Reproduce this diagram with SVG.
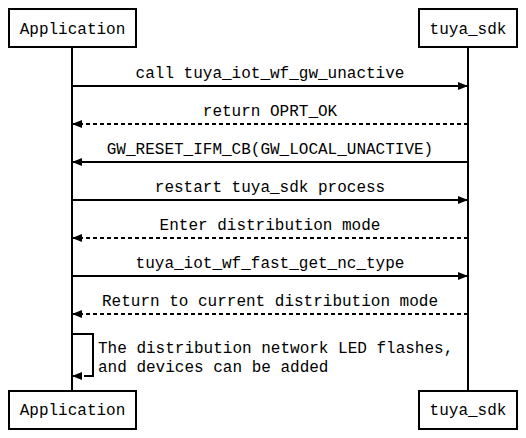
<svg xmlns="http://www.w3.org/2000/svg" width="526" height="438" viewBox="0 0 526 438">
<defs>
<style>
.box{fill:#fff;stroke:#000;stroke-width:2}
.t{font-family:"Liberation Mono","DejaVu Sans Mono",monospace;font-size:16px;fill:#000}
.m{text-anchor:middle}
.ln{stroke:#000;stroke-width:2;fill:none}
.d{stroke-dasharray:4,3}
</style>
<marker id="ah" viewBox="0 0 10 8" refX="10" refY="4" markerWidth="10" markerHeight="8" markerUnits="userSpaceOnUse" orient="auto">
<path d="M0,0 L10,4 L0,8 z" fill="#000"/>
</marker>
</defs>
<rect width="526" height="438" fill="#fff"/>
<g id="lifelines">
<line class="ln" x1="72" y1="47" x2="72" y2="391"/>
<line class="ln" x1="468" y1="47" x2="468" y2="391"/>
</g>
<g id="app-top"><rect class="box" x="9" y="9" width="127" height="38"/><text class="t m" x="72.5" y="34">Application</text></g>
<g id="sdk-top"><rect class="box" x="419" y="9" width="98" height="38"/><text class="t m" x="468" y="34">tuya_sdk</text></g>
<g id="app-bottom"><rect class="box" x="9" y="391" width="127" height="38"/><text class="t m" x="72.5" y="415">Application</text></g>
<g id="sdk-bottom"><rect class="box" x="419" y="391" width="98" height="38"/><text class="t m" x="468" y="415">tuya_sdk</text></g>
<g id="connectors">
<line class="ln" x1="72" y1="86" x2="468" y2="86" marker-end="url(#ah)"/>
<line class="ln d" x1="468" y1="124" x2="72" y2="124" marker-end="url(#ah)"/>
<line class="ln" x1="468" y1="162" x2="72" y2="162" marker-end="url(#ah)"/>
<line class="ln" x1="72" y1="200" x2="468" y2="200" marker-end="url(#ah)"/>
<line class="ln d" x1="468" y1="238" x2="72" y2="238" marker-end="url(#ah)"/>
<line class="ln" x1="72" y1="276" x2="468" y2="276" marker-end="url(#ah)"/>
<line class="ln d" x1="468" y1="314" x2="72" y2="314" marker-end="url(#ah)"/>
<polyline class="ln" points="72,334 93,334 93,376 88,376"/>
<line class="ln d" x1="88" y1="376" x2="72" y2="376" marker-end="url(#ah)"/>
</g>
<g id="labels">
<text class="t m" x="270" y="78">call tuya_iot_wf_gw_unactive</text>
<text class="t m" x="270" y="116">return OPRT_OK</text>
<text class="t m" x="270" y="154">GW_RESET_IFM_CB(GW_LOCAL_UNACTIVE)</text>
<text class="t m" x="270" y="192">restart tuya_sdk process</text>
<text class="t m" x="270" y="230">Enter distribution mode</text>
<text class="t m" x="270" y="268">tuya_iot_wf_fast_get_nc_type</text>
<text class="t m" x="270" y="306">Return to current distribution mode</text>
<text class="t" x="98" y="353">The distribution network LED flashes,</text>
<text class="t" x="98" y="372">and devices can be added</text>
</g>
</svg>
